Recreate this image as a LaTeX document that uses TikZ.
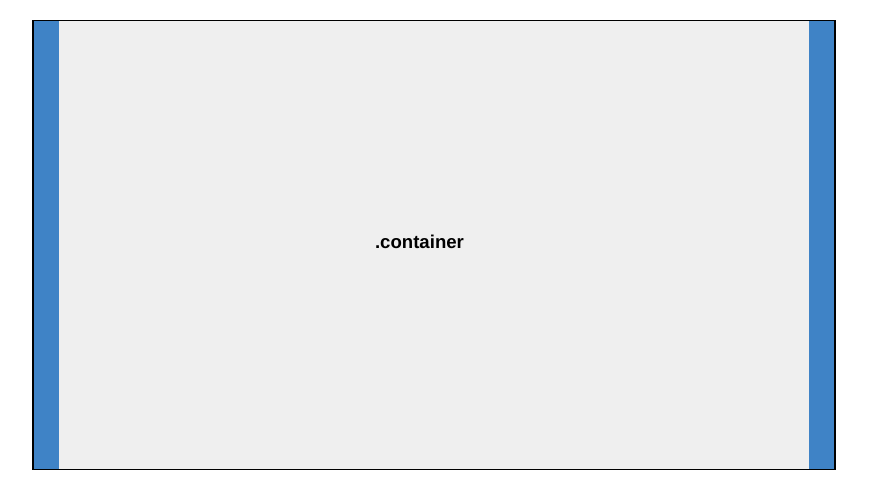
\documentclass[tikz,border=0pt]{standalone}
\usepackage{fontspec}
\setmainfont{Liberation Sans}
\usepackage{tikz}
\usetikzlibrary{positioning}

\definecolor{barblue}{HTML}{3F83C6}
\definecolor{boxgray}{HTML}{EFEFEF}

\begin{document}
\begin{tikzpicture}[x=1pt, y=-1pt,
    box/.style={draw=black, line width=1.5pt, fill=boxgray, inner sep=0pt, outer sep=0pt},
    bar/.style={fill=barblue, inner sep=0pt, outer sep=0pt, minimum width=26pt, minimum height=449pt},
    lbl/.style={font=\fontsize{18.6}{21}\selectfont\bfseries}]
  \useasboundingbox (0,0) rectangle (874,492);
  \node[box, minimum width=802pt, minimum height=449pt] (container) at (434,245) {};
  \node[bar, anchor=north west] (leftbar) at (container.north west) {};
  \node[bar, anchor=north east] (rightbar) at (container.north east) {};
  \draw[line width=1.5pt] (container.north west) rectangle (container.south east);
  \node[lbl] (name) at (419.5,242) {.container};
\end{tikzpicture}
\end{document}
